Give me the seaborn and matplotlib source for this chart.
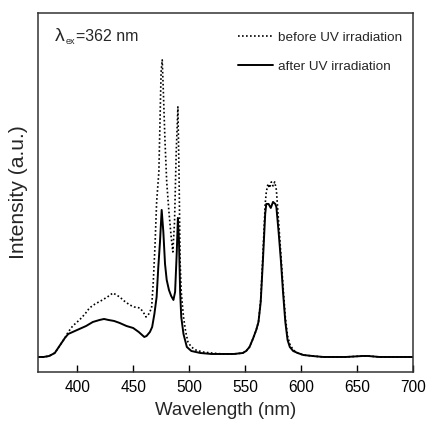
import matplotlib
matplotlib.use("Agg")
import matplotlib.pyplot as plt
from matplotlib.transforms import IdentityTransform
import seaborn as sns
import pandas as pd

# ---- data ----
after_nm = [365, 370, 375, 380, 383, 386, 389, 392, 396, 402, 408, 414, 420, 424, 428, 433, 438, 444,
            450, 455, 460, 462, 465, 467, 469, 471, 472.5, 474, 475.5, 477, 478.5, 480, 482, 484, 486,
            487.5, 489, 490, 491, 492, 493, 495, 498, 502, 510, 520, 530, 540, 548, 551, 554, 557, 560,
            562, 564, 566, 568, 569, 571, 573, 575, 577, 578, 580, 582, 584, 586, 588, 590, 593, 597,
            602, 610, 620, 640, 655, 660, 670, 690, 700]
after_int = [15, 15, 16, 19, 24, 29, 34, 38, 40, 43, 46, 50, 52, 53, 52, 51, 49, 46,
             44, 40, 35, 36, 40, 45, 58, 75, 105, 130, 162, 140, 108, 92, 82, 76, 72,
             80, 120, 154, 130, 80, 55, 38, 25, 21, 19, 18, 18, 18, 19, 21, 25, 33, 42,
             50, 70, 112, 158, 168, 168, 164, 170, 168, 165, 140, 112, 79, 50, 32, 25, 21, 19,
             17, 16, 15, 15, 16, 16, 15, 15, 15]

before_nm = [365, 370, 375, 380, 383, 386, 389, 392, 396, 402, 407, 411, 416, 421, 427, 432, 435, 438,
             442, 447, 451, 456, 459, 461.5, 464, 466.5, 468, 469.5, 471, 472, 473, 474, 475, 476, 477,
             478.5, 480, 482, 484, 485.5, 487, 488.5, 490, 491, 492, 493, 495, 497, 499, 502, 506, 512,
             520, 530, 540, 548, 551, 554, 557, 560, 562, 564, 566, 568, 569, 570.5, 572, 573.5, 575,
             576.5, 578, 580, 582, 584, 586, 588, 590, 593, 597, 602, 610, 620, 640, 655, 660, 670,
             690, 700]
before_int = [15, 15, 16, 19, 24, 29, 34, 40, 46, 52, 58, 64, 68, 71, 75, 79, 77, 75,
              71, 67, 65, 64, 60, 55, 58, 64, 90, 125, 170, 185, 200, 250, 300, 312, 280,
              230, 190, 160, 135, 120, 150, 220, 265, 200, 110, 80, 55, 40, 30, 25, 22, 20,
              19, 18, 18, 19, 21, 25, 33, 42, 50, 72, 118, 168, 180, 188, 184, 190, 186,
              190, 182, 150, 118, 85, 55, 36, 28, 22, 19, 17, 16, 15, 15, 16, 16, 15,
              15, 15]

x_ticks = [400, 450, 500, 550, 600, 650, 700]
label_before = "before UV irradiation"
label_after = "after UV irradiation"

df_before = pd.DataFrame({"nm": before_nm, "I": before_int})
df_after = pd.DataFrame({"nm": after_nm, "I": after_int})

sns.set_style("ticks")
plt.rcParams["font.family"] = ["Liberation Sans", "DejaVu Sans"]

W, H = 427, 422
fig = plt.figure(figsize=(W / 100, H / 100), dpi=100)
ax = fig.add_axes([0.089, 0.1185, 0.878, 0.851])

sns.lineplot(data=df_before, x="nm", y="I", ax=ax, color="black", lw=1.2,
             linestyle=(0, (1, 1.4)), label=label_before, estimator=None, sort=False)
sns.lineplot(data=df_after, x="nm", y="I", ax=ax, color="black", lw=1.4,
             linestyle="-", label=label_after, estimator=None, sort=False)

ax.set_xlim(365, 700)
ax.set_ylim(0, 359)
ax.set_xticks(x_ticks)
ax.set_yticks([])
ax.tick_params(axis="x", direction="in", length=5, width=1, labelsize=11.2, colors="black", pad=6)
for s in ax.spines.values():
    s.set_visible(True)
    s.set_linewidth(1.1)
    s.set_color("#333333")

ax.set_xlabel("Wavelength (nm)", fontsize=13.4, labelpad=5)
ax.set_ylabel("Intensity (a.u.)", fontsize=15.2, labelpad=7)

# excitation label: lambda with small subscript "ex"
idt = IdentityTransform()
fig.text(55, H - 41, "λ", transform=idt, fontsize=14, ha="left", va="baseline")
fig.text(66, H - 44, "ex", transform=idt, fontsize=6.5, ha="left", va="baseline")
fig.text(75.5, H - 41, "=362 nm", transform=idt, fontsize=11.5, ha="left", va="baseline")

leg = ax.legend(loc="upper right", frameon=False, fontsize=9.7, handlelength=2.6,
                labelspacing=1.2, handletextpad=0.4, borderaxespad=0.4,
                bbox_to_anchor=(1.0, 0.978))

fig.savefig("out.png", dpi=100)
